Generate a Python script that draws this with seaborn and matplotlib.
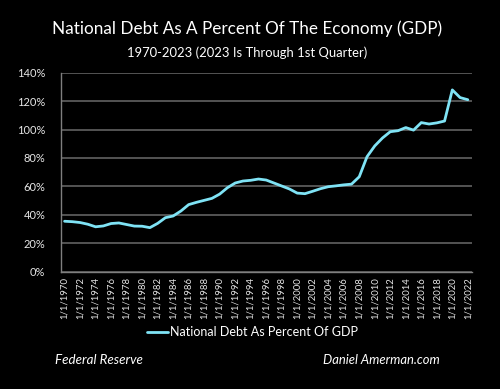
import matplotlib
matplotlib.use("Agg")
import matplotlib.pyplot as plt
import seaborn as sns
import pandas as pd
import numpy as np

years = list(range(1970, 2023))
debt_pct = [35.5, 35.2, 34.6, 33.4, 31.6, 32.2, 33.9, 34.3, 33.2, 32.1,
            32.0, 31.0, 34.0, 38.0, 39.2, 42.7, 47.2, 48.8, 50.2, 51.6,
            54.6, 59.1, 62.4, 63.8, 64.3, 65.2, 64.5, 62.4, 60.3, 58.2,
            55.3, 54.9, 56.6, 58.4, 59.8, 60.4, 61.1, 61.6, 66.8, 80.9,
            88.5, 94.1, 98.5, 99.2, 101.4, 99.6, 104.9, 103.9, 104.7, 106.0,
            127.9, 122.5, 121.0]
tick_labels = [f"1/1/{y}" for y in years[::2]]
y_ticks = [0, 20, 40, 60, 80, 100, 120, 140]

title = "National Debt As A Percent Of The Economy (GDP)"
subtitle = "1970-2023 (2023 Is Through 1st Quarter)"
series_name = "National Debt As Percent Of GDP"

sns.set_style("dark", {"axes.facecolor": "black", "figure.facecolor": "black"})
plt.rcParams['font.family'] = ['Lato', 'DejaVu Sans']

df = pd.DataFrame({"idx": np.arange(len(years)), "value": debt_pct, "series": series_name})

fig = plt.figure(figsize=(5.0, 3.89), dpi=100, facecolor="black")
ax = fig.add_axes([0.1214, 0.3015, 0.822, 0.5116])
ax.set_facecolor("black")

sns.lineplot(data=df, x="idx", y="value", hue="series", palette=["#7fe3f5"],
             linewidth=2.0, ax=ax, legend=False)

ax.set_xlim(-0.5, len(years) - 0.5)
ax.set_ylim(0, 140)
ax.set_yticks(y_ticks)
ax.set_yticklabels([f"{v}%" for v in y_ticks])
ax.grid(axis="y", color="#5a5a5a", linewidth=1.3)
ax.grid(axis="x", visible=False)
ax.set_axisbelow(True)

# category boundaries as major ticks, labels centered on categories as minor ticks
ax.set_xticks(np.arange(-0.5, len(years), 2))
ax.set_xticklabels([])
ax.set_xticks(np.arange(0, len(years), 2), minor=True)
ax.set_xticklabels(tick_labels, minor=True, rotation=90, fontsize=6.9, color="#e6e6e6")
ax.tick_params(axis="x", which="major", length=4, width=1, color="#7f7f7f", direction="out")
ax.tick_params(axis="x", which="minor", length=0, pad=4)
ax.tick_params(axis="y", length=4, width=1, color="#7f7f7f", labelsize=8, labelcolor="#e6e6e6", pad=7)
ax.set_xlabel("")
ax.set_ylabel("")

for s in ["top", "right"]:
    ax.spines[s].set_visible(False)
for s in ["left", "bottom"]:
    ax.spines[s].set_color("#7f7f7f")
    ax.spines[s].set_linewidth(1.0)

fig.text(0.494, 1 - 29 / 389, title, ha="center", va="center", fontsize=12.3, color="white")
fig.text(0.494, 1 - 53 / 389, subtitle, ha="center", va="center", fontsize=9.4, color="white")

# legend
from matplotlib.lines import Line2D
h = Line2D([0], [0], color="#7fe3f5", linewidth=2.0)
fig.legend([h], [series_name], loc="center", bbox_to_anchor=(0.505, 1 - 332 / 389),
           frameon=False, fontsize=9.0, labelcolor="white", handlelength=1.7,
           handletextpad=0.15)

fig.text(55 / 500, 1 - 360 / 389, "Federal Reserve", ha="left", va="center",
         fontsize=9.6, style="italic", color="white")
fig.text(323 / 500, 1 - 360 / 389, "Daniel Amerman.com", ha="left", va="center",
         fontsize=9.4, style="italic", color="white")

fig.savefig("out.png", dpi=100, facecolor="black")
